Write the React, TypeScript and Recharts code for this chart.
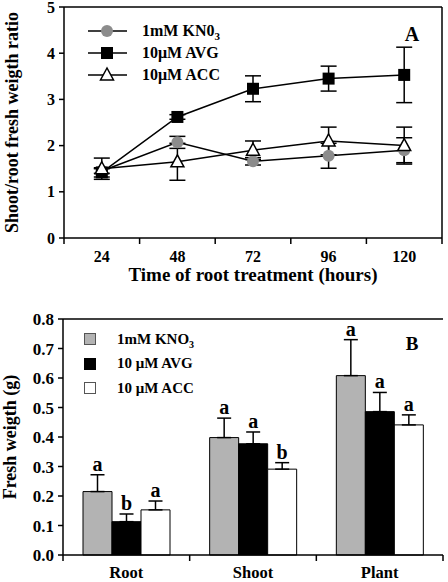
import React from 'react';
import {
  LineChart, Line, XAxis, YAxis, ErrorBar, ReferenceLine, Legend,
  BarChart, Bar, LabelList,
} from 'recharts';

const FONT = '"Liberation Serif", "Times New Roman", serif';

// ---------- Panel A data ----------
const hours = [24, 48, 72, 96, 120];
const kno3Ratio = [1.45, 2.07, 1.66, 1.78, 1.9];
const kno3RatioErr = [0.05, 0.13, 0.08, 0.27, 0.27];
const avgRatio = [1.42, 2.62, 3.23, 3.45, 3.53];
const avgRatioErr = [0.1, 0.05, 0.28, 0.27, 0.6];
const accRatio = [1.5, 1.65, 1.9, 2.1, 2.0];
const accRatioErr = [0.23, 0.4, 0.2, 0.3, 0.4];
const timeTicks = [12, 24, 36, 48, 60, 72, 84, 96, 108, 120, 132];
const ratioTicks = [0, 1, 2, 3, 4, 5];
const lineNames = ['1mM KN0', '10μM AVG', '10μM ACC'];
const lineNameSubs = ['3', '', ''];

// ---------- Panel B data ----------
const groups = ['Root', 'Shoot', 'Plant'];
const kno3Weight = [0.215, 0.398, 0.608];
const kno3WeightErr = [0.057, 0.066, 0.122];
const avgWeight = [0.113, 0.377, 0.486];
const avgWeightErr = [0.026, 0.04, 0.065];
const accWeight = [0.153, 0.291, 0.441];
const accWeightErr = [0.03, 0.022, 0.034];
const kno3Letters = ['a', 'a', 'a'];
const avgLetters = ['b', 'a', 'a'];
const accLetters = ['a', 'b', 'a'];
const weightTicks = [0, 0.1, 0.2, 0.3, 0.4, 0.5, 0.6, 0.7, 0.8];
const barNames = ['1mM KNO', '10 μM AVG', '10 μM ACC'];
const barNameSubs = ['3', '', ''];

const lineData = hours.map((h, i) => ({
  h,
  kno3: kno3Ratio[i], kno3Err: kno3RatioErr[i],
  avg: avgRatio[i], avgErr: avgRatioErr[i],
  acc: accRatio[i], accErr: accRatioErr[i],
}));

const barData = groups.map((g, i) => ({
  g,
  kno3: kno3Weight[i], kno3Err: [0, kno3WeightErr[i]], kno3Top: kno3WeightErr[i], kno3L: kno3Letters[i],
  avg: avgWeight[i], avgErr: [0, avgWeightErr[i]], avgTop: avgWeightErr[i], avgL: avgLetters[i],
  acc: accWeight[i], accErr: [0, accWeightErr[i]], accTop: accWeightErr[i], accL: accLetters[i],
}));

const GRAY = '#8c8c8c';
const BAR_GRAY = '#b3b3b3';

const A_TICK_SIZE = 6;
const A_TICK_MARGIN = 7;
function TimeTick(props: any) {
  const { x, y, payload } = props;
  const axisY = y - A_TICK_SIZE - A_TICK_MARGIN;
  if (hours.includes(payload.value)) {
    return (
      <text x={x} y={y} dy="0.68em" textAnchor="middle" fontSize={16} fontWeight="bold" fill="#000" fontFamily={FONT}>
        {payload.value}
      </text>
    );
  }
  return <line x1={x} x2={x} y1={axisY} y2={axisY + A_TICK_SIZE} stroke="#000" strokeWidth={1.5} />;
}

const B_TICK_SIZE = 6;
const B_TICK_MARGIN = 5;
function GroupTick(props: any) {
  const { x, y, payload, index, visibleTicksCount } = props;
  const half = payload.offset ?? 0;
  const axisY = y - B_TICK_SIZE - B_TICK_MARGIN;
  return (
    <g>
      <line x1={x - half} x2={x - half} y1={axisY} y2={axisY + B_TICK_SIZE} stroke="#000" strokeWidth={1.5} />
      {index === visibleTicksCount - 1 && (
        <line x1={x + half} x2={x + half} y1={axisY} y2={axisY + B_TICK_SIZE} stroke="#000" strokeWidth={1.5} />
      )}
      <text x={x} y={y} dy="0.71em" textAnchor="middle" fontSize={16.5} fontWeight="bold" fill="#000" fontFamily={FONT}>
        {payload.value}
      </text>
    </g>
  );
}

const CircleDot = (p: any) => (p.cx == null ? <g key={p.index} /> :
  <circle key={p.index} cx={p.cx} cy={p.cy} r={6} fill={GRAY} />);
const SquareDot = (p: any) => (p.cx == null ? <g key={p.index} /> :
  <rect key={p.index} x={p.cx - 6} y={p.cy - 6} width={12} height={12} fill="#000" />);
const TriangleDot = (p: any) => (p.cx == null ? <g key={p.index} /> :
  <polygon key={p.index} points={`${p.cx},${p.cy - 7} ${p.cx - 6.5},${p.cy + 5} ${p.cx + 6.5},${p.cy + 5}`} fill="#fff" stroke="#000" strokeWidth={1.5} />);

const lineIcons = [
  <circle cx={21} cy={11} r={6} fill={GRAY} />,
  <rect x={15} y={5} width={12} height={12} fill="#000" />,
  <polygon points="21,4 14.5,16 27.5,16" fill="#fff" stroke="#000" strokeWidth={1.5} />,
];

function TopLegend() {
  return (
    <div style={{ fontFamily: FONT, fontWeight: 'bold', fontSize: 16, color: '#000' }}>
      {lineNames.map((n, i) => (
        <div key={n} style={{ display: 'flex', alignItems: 'center', height: 22 }}>
          <svg width={42} height={22} style={{ display: 'block' }}>
            <line x1={2} x2={41} y1={11} y2={11} stroke="#000" strokeWidth={1.5} />
            {lineIcons[i]}
          </svg>
          <span style={{ marginLeft: 14, whiteSpace: 'nowrap' }}>
            {n}
            {lineNameSubs[i] && <span style={{ fontSize: 11, position: 'relative', top: 4 }}>{lineNameSubs[i]}</span>}
          </span>
        </div>
      ))}
    </div>
  );
}

const barFills = [BAR_GRAY, '#000', '#fff'];
function BottomLegend() {
  return (
    <div style={{ fontFamily: FONT, fontWeight: 'bold', fontSize: 15, color: '#000' }}>
      {barNames.map((n, i) => (
        <div key={n} style={{ display: 'flex', alignItems: 'center', height: 24.5 }}>
          <svg width={14} height={14} style={{ display: 'block' }}>
            <rect x={1.5} y={1.5} width={11} height={11} fill={barFills[i]} stroke={i === 1 ? '#000' : '#555'} strokeWidth={1} />
          </svg>
          <span style={{ marginLeft: 20, whiteSpace: 'nowrap' }}>
            {n}
            {barNameSubs[i] && <span style={{ fontSize: 10, position: 'relative', top: 4 }}>{barNameSubs[i]}</span>}
          </span>
        </div>
      ))}
    </div>
  );
}

const axisStyle = { stroke: '#000', strokeWidth: 1.5 };

export default function App() {
  return (
    <div style={{ position: 'absolute', left: 0, top: 0, width: 448, height: 582, background: '#fff', fontFamily: FONT }}>
      <div style={{ position: 'absolute', left: 0, top: 0 }}>
        <LineChart width={448} height={290} data={lineData} margin={{ top: 7, right: 6, left: 0, bottom: 0 }} style={{ fontFamily: FONT }}>
          <XAxis
            dataKey="h" type="number" domain={[12, 132]} ticks={timeTicks} interval={0}
            tickSize={A_TICK_SIZE} tickMargin={A_TICK_MARGIN} tickLine={false}
            axisLine={axisStyle} tick={<TimeTick />} height={52}
            label={{ value: 'Time of root treatment (hours)', position: 'insideBottom', offset: 9, fontSize: 19, fontWeight: 'bold', fill: '#000', fontFamily: FONT }}
          />
          <YAxis
            type="number" domain={[0, 5]} ticks={ratioTicks} interval={0} width={64}
            tickSize={5} tickMargin={4} axisLine={axisStyle} tickLine={axisStyle}
            tick={{ fontSize: 16, fontWeight: 'bold', fill: '#000', fontFamily: FONT }}
            label={{ value: 'Shoot/root fresh weigth ratio', angle: -90, position: 'insideLeft', offset: 12, textAnchor: 'middle', fontSize: 18, fontWeight: 'bold', fill: '#000', fontFamily: FONT }}
          />
          <ReferenceLine y={5} stroke="#000" strokeWidth={1.5} />
          <ReferenceLine x={132} stroke="#000" strokeWidth={1.5} />
          <Legend
            content={<TopLegend />} layout="horizontal" verticalAlign="middle" align="center"
            wrapperStyle={{ position: 'absolute', top: 20, left: 86, width: 'auto', height: 'auto' }}
          />
          <Line dataKey="kno3" name={lineNames[0]} stroke="#000" strokeWidth={1.5} dot={CircleDot} activeDot={false} isAnimationActive={false}>
            <ErrorBar dataKey="kno3Err" width={8} stroke="#000" strokeWidth={1.5} />
          </Line>
          <Line dataKey="avg" name={lineNames[1]} stroke="#000" strokeWidth={1.5} dot={SquareDot} activeDot={false} isAnimationActive={false}>
            <ErrorBar dataKey="avgErr" width={8} stroke="#000" strokeWidth={1.5} />
          </Line>
          <Line dataKey="acc" name={lineNames[2]} stroke="#000" strokeWidth={1.5} dot={TriangleDot} activeDot={false} isAnimationActive={false}>
            <ErrorBar dataKey="accErr" width={8} stroke="#000" strokeWidth={1.5} />
          </Line>
        </LineChart>
      </div>
      <div style={{ position: 'absolute', left: 0, top: 290 }}>
        <BarChart width={448} height={292} data={barData} margin={{ top: 29, right: 5, left: 0, bottom: 0 }} barGap={0} barCategoryGap="16%" style={{ fontFamily: FONT }}>
          <XAxis
            dataKey="g" type="category" height={27} interval={0}
            tickSize={B_TICK_SIZE} tickMargin={B_TICK_MARGIN} tickLine={false}
            axisLine={axisStyle} tick={<GroupTick />}
          />
          <YAxis
            type="number" domain={[0, 0.8]} ticks={weightTicks} interval={0} width={63}
            tickFormatter={(v: number) => v.toFixed(1)}
            tickSize={5} tickMargin={4} axisLine={axisStyle} tickLine={axisStyle}
            tick={{ fontSize: 17, fontWeight: 'bold', fill: '#000', fontFamily: FONT }}
            label={{ value: 'Fresh weigth (g)', angle: -90, position: 'insideLeft', offset: 10, textAnchor: 'middle', fontSize: 18, fontWeight: 'bold', fill: '#000', fontFamily: FONT }}
          />
          <YAxis yAxisId="right" orientation="right" width={0} domain={[0, 0.8]} tick={false} tickLine={false} axisLine={axisStyle} />
          <ReferenceLine y={0.8} stroke="#000" strokeWidth={1.5} />
          <Legend
            content={<BottomLegend />} layout="horizontal" verticalAlign="middle" align="center"
            wrapperStyle={{ position: 'absolute', top: 37, left: 83, width: 'auto', height: 'auto' }}
          />
          <Bar dataKey="kno3" stackId="k" fill={BAR_GRAY} stroke="#000" strokeWidth={1} barSize={29} isAnimationActive={false}>
            <ErrorBar dataKey="kno3Err" width={7} stroke="#000" strokeWidth={1.5} />
          </Bar>
          <Bar dataKey="kno3Top" stackId="k" fill="none" stroke="none" barSize={29} isAnimationActive={false}>
            <LabelList dataKey="kno3L" position="top" offset={4} fontSize={20} fontWeight="bold" fill="#000" fontFamily={FONT} />
          </Bar>
          <Bar dataKey="avg" stackId="v" fill="#000" stroke="#000" strokeWidth={1} barSize={29} isAnimationActive={false}>
            <ErrorBar dataKey="avgErr" width={7} stroke="#000" strokeWidth={1.5} />
          </Bar>
          <Bar dataKey="avgTop" stackId="v" fill="none" stroke="none" barSize={29} isAnimationActive={false}>
            <LabelList dataKey="avgL" position="top" offset={4} fontSize={20} fontWeight="bold" fill="#000" fontFamily={FONT} />
          </Bar>
          <Bar dataKey="acc" stackId="c" fill="#fff" stroke="#000" strokeWidth={1} barSize={29} isAnimationActive={false}>
            <ErrorBar dataKey="accErr" width={7} stroke="#000" strokeWidth={1.5} />
          </Bar>
          <Bar dataKey="accTop" stackId="c" fill="none" stroke="none" barSize={29} isAnimationActive={false}>
            <LabelList dataKey="accL" position="top" offset={4} fontSize={20} fontWeight="bold" fill="#000" fontFamily={FONT} />
          </Bar>
        </BarChart>
      </div>
      <svg width={448} height={582} style={{ position: 'absolute', left: 0, top: 0, pointerEvents: 'none' }}>
        <text x={412} y={41} textAnchor="middle" fontSize={20} fontWeight="bold" fill="#000" fontFamily={FONT}>A</text>
        <text x={412} y={350} textAnchor="middle" fontSize={19} fontWeight="bold" fill="#000" fontFamily={FONT}>B</text>
      </svg>
    </div>
  );
}
